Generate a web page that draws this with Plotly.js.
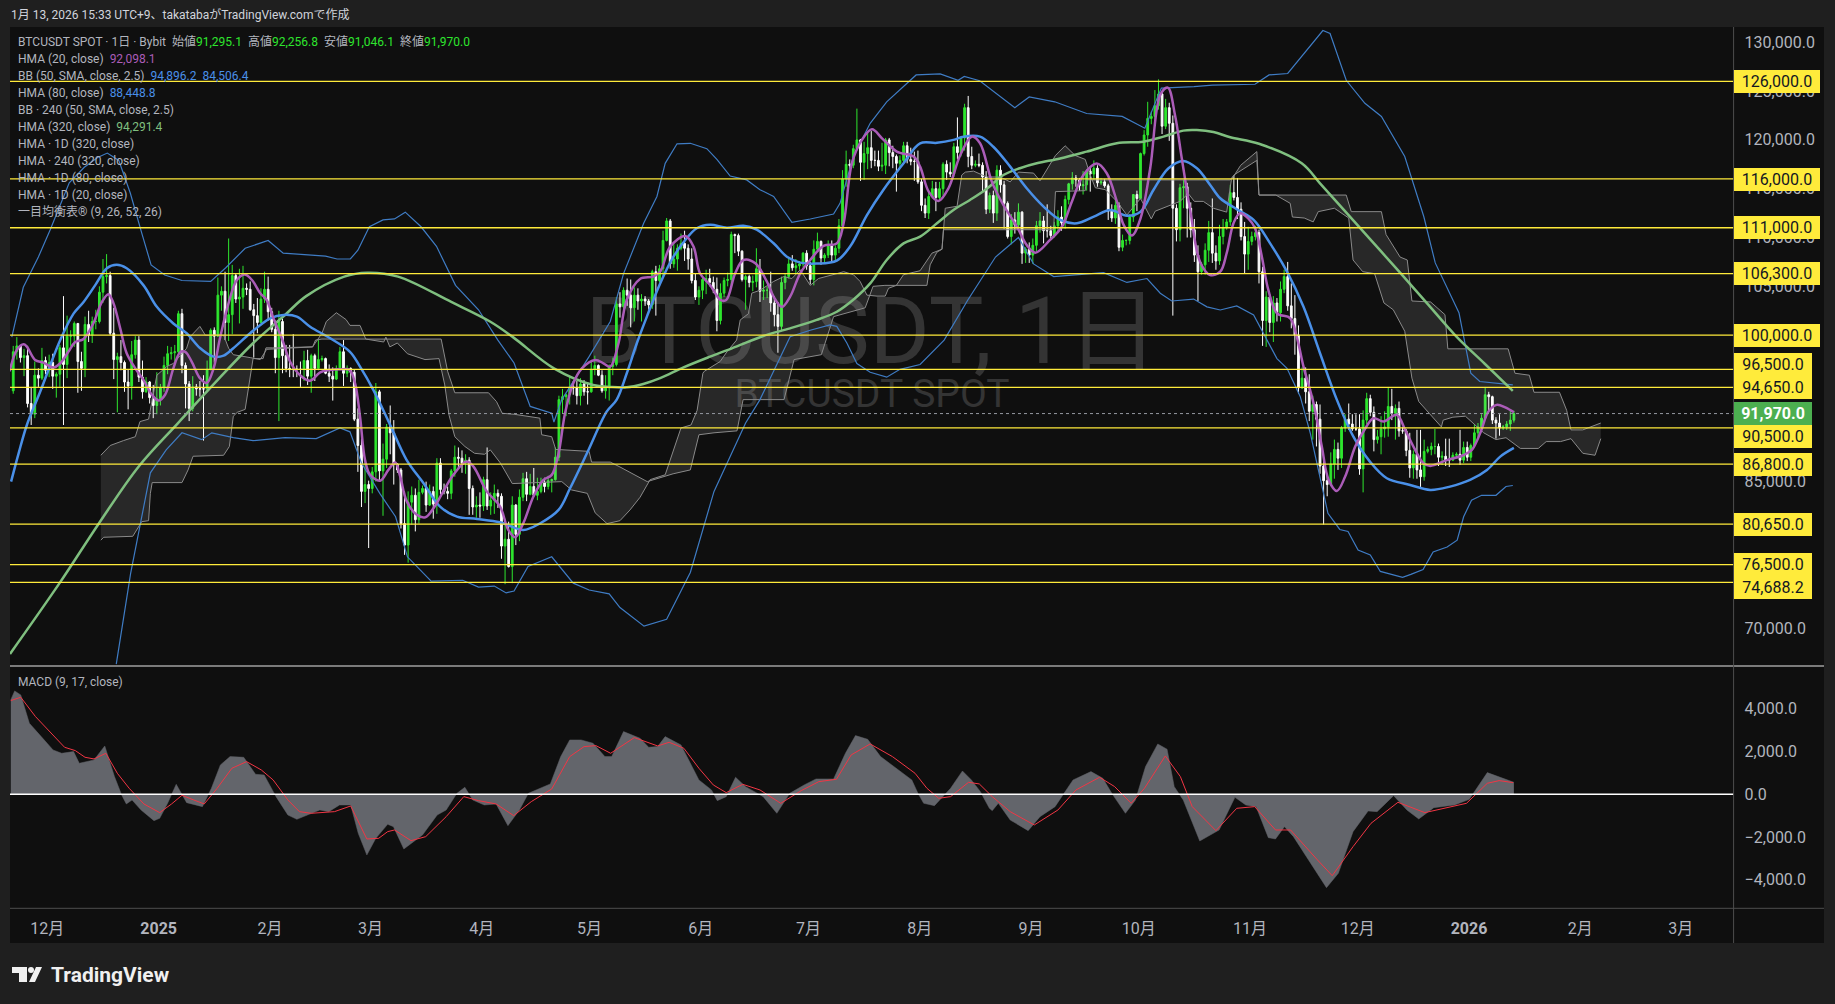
<!DOCTYPE html>
<html>
<head>
<meta charset="utf-8">
<script src="https://cdn.plot.ly/plotly-3.0.1.min.js"></script>
<style>
  html, body { margin: 0; padding: 0; background: #1f1f1f; }
  #chart { width: 1835px; height: 1004px; }
</style>
</head>
<body>
<div id="chart"></div>
<script>
// BTCUSDT daily candles, in thousands, 2024-11-21 .. 2026-01-13, one line per month
var opens = [
  94.3,98.3,98.9,97.7,97.9,93.0,91.9,95.9,95.6,97.4,
  96.4,97.2,95.8,96.0,98.7,97.0,99.9,99.9,101.2,97.3,96.6,101.1,100.0,101.4,101.4,104.4,106.0,106.1,100.2,97.5,97.8,97.2,95.2,94.8,98.0,99.5,95.7,94.2,95.2,93.6,92.8,
  93.5,94.6,96.9,98.1,98.2,98.3,102.2,96.9,95.0,92.5,94.7,94.5,94.5,94.5,96.5,100.5,99.9,104.1,104.5,101.3,102.1,106.1,103.7,103.9,104.8,104.7,102.6,102.0,101.3,103.7,104.7,
  102.4,100.6,97.7,101.4,97.9,96.6,96.5,96.5,96.5,96.5,97.4,95.8,97.9,96.6,97.5,97.6,96.1,95.8,95.5,96.6,98.3,96.1,96.6,96.2,91.4,88.7,84.0,84.7,
  84.3,86.0,94.2,86.1,87.3,90.6,90.0,86.8,86.2,80.7,78.5,82.9,83.6,81.1,83.9,84.3,82.6,84.0,82.7,86.9,84.2,84.0,83.8,86.1,87.5,87.4,86.9,87.2,84.3,82.4,82.6,
  82.5,85.2,82.5,83.1,83.8,83.5,78.4,79.1,76.3,82.6,79.6,83.4,85.3,83.7,84.5,83.6,84.0,84.9,84.5,85.1,85.2,87.5,93.4,93.7,93.9,94.7,94.6,93.8,95.0,94.2,
  94.2,96.5,96.9,95.9,94.3,94.7,96.8,97.0,103.2,102.9,104.6,104.1,102.8,104.1,103.5,103.7,103.5,103.1,106.5,105.6,106.8,109.7,111.7,107.3,107.8,108.9,109.4,108.9,107.8,105.6,103.9,
  104.6,105.7,105.8,105.4,104.7,101.5,104.3,105.6,105.7,110.3,110.2,108.6,105.7,106.0,105.4,105.5,106.8,104.5,104.6,104.6,103.3,102.1,100.9,105.4,106.0,107.3,106.9,107.1,107.3,108.4,
  107.1,105.7,108.8,109.6,107.9,108.2,109.2,108.2,108.9,111.2,116.0,117.5,117.4,119.1,120.0,117.7,118.6,119.2,117.9,117.9,117.3,117.4,120.0,118.7,118.3,117.6,117.9,119.4,118.0,117.8,117.8,
  115.7,113.3,112.5,114.2,115.0,114.1,115.0,117.5,116.7,116.5,119.3,118.7,120.2,123.3,118.3,117.4,117.5,117.4,116.2,112.9,114.3,112.5,116.9,115.4,113.5,110.1,111.8,111.3,112.6,108.4,108.8,
  108.2,109.2,111.2,111.7,110.7,110.7,110.2,111.2,112.1,111.5,113.9,115.5,116.1,115.9,115.3,115.4,116.8,116.5,117.1,115.6,115.7,115.3,112.7,112.0,113.3,109.0,109.7,109.7,112.1,114.4,
  114.0,118.6,120.5,122.2,122.4,123.5,124.7,121.4,123.3,121.7,113.0,110.8,115.1,115.2,113.0,110.8,108.2,106.5,107.2,108.7,110.5,108.4,107.6,110.1,111.0,111.6,114.6,114.1,112.9,110.1,108.3,
  109.6,110.1,110.5,106.5,101.5,103.9,101.3,103.3,102.3,104.7,106.0,103.0,101.7,100.0,94.6,95.6,94.2,92.2,92.9,91.4,86.6,85.1,84.7,86.8,88.3,87.4,90.5,91.4,90.9,90.4,
  90.4,86.3,91.3,93.5,92.1,89.3,89.6,90.4,90.6,92.7,92.0,92.5,90.2,90.2,88.2,86.4,87.8,86.2,85.5,88.1,88.3,88.6,88.6,87.5,87.6,87.2,87.2,87.7,87.8,87.2,88.5,
  87.5,88.7,90.0,90.6,91.5,93.9,93.7,91.3,91.0,90.5,90.6,90.9,91.2951
];
var highs = [
  98.9,99.8,98.9,98.6,98.9,94.7,97.3,96.6,98.7,97.8,
  98.0,98.1,96.2,99.0,104.0,102.0,100.5,101.4,101.2,98.3,101.9,102.5,101.9,102.6,105.0,107.8,108.3,106.5,102.8,98.2,99.5,97.4,96.5,99.4,99.9,99.9,97.4,95.7,95.3,94.9,96.2,
  95.0,97.8,98.9,98.8,99.0,102.5,102.7,97.2,95.3,95.8,95.0,95.3,95.9,97.4,100.7,100.8,105.9,105.0,106.5,109.9,107.2,106.3,106.8,107.1,105.3,105.5,103.2,103.8,104.8,106.5,106.0,
  102.8,101.5,102.5,101.7,99.0,99.0,100.1,96.9,97.3,98.4,98.5,98.1,98.1,99.5,97.9,97.7,97.0,96.7,96.9,98.8,99.5,96.9,96.7,96.5,92.5,89.4,87.0,85.1,
  86.5,95.1,94.4,88.9,90.9,92.8,91.3,86.9,86.4,84.0,84.0,84.5,84.3,85.2,84.6,85.0,84.7,84.5,87.4,87.4,84.8,84.5,86.3,88.7,88.5,88.2,87.8,87.5,84.6,83.5,83.9,
  85.5,88.5,83.9,84.7,84.2,83.8,81.2,80.9,83.5,82.7,84.2,85.9,86.0,85.8,86.4,85.4,85.4,85.4,85.6,85.3,88.5,93.8,94.5,94.0,95.8,95.3,95.3,95.6,95.4,95.2,
  97.4,97.9,97.0,96.4,95.9,97.0,97.7,103.9,104.4,104.9,105.8,105.7,104.9,104.8,104.2,104.0,103.7,106.7,107.1,107.2,110.7,112.0,111.9,109.5,109.3,110.4,110.7,109.3,108.9,106.3,105.0,
  105.9,106.7,106.8,106.0,105.9,105.3,105.9,106.4,110.6,110.4,110.4,108.7,106.2,106.2,106.1,108.9,107.8,105.6,105.0,106.5,104.0,103.4,106.0,106.3,108.0,108.2,107.8,107.6,108.5,108.7,
  107.5,109.7,110.5,109.7,108.4,109.7,109.7,109.2,111.9,116.9,118.9,118.0,119.5,123.2,120.1,119.8,120.9,120.9,118.9,118.9,119.7,120.2,120.2,119.4,118.5,118.4,119.8,119.8,119.2,118.8,118.9,
  116.0,114.0,114.8,115.8,115.7,115.7,117.7,117.9,117.7,119.7,122.3,120.3,123.7,124.5,119.3,117.9,118.6,117.7,116.8,114.6,114.8,117.4,117.4,115.8,113.7,112.4,112.6,113.5,112.7,109.0,109.5,
  109.9,111.7,112.6,112.2,113.4,111.2,111.6,112.8,113.2,114.3,115.6,116.7,116.4,116.1,116.8,117.0,117.3,117.9,117.4,116.1,116.0,115.5,113.4,114.0,113.6,110.3,109.8,112.4,114.4,114.8,
  118.7,121.0,123.9,122.9,125.1,126.2,125.0,124.2,123.8,122.5,113.4,115.5,115.9,115.6,113.6,111.9,109.2,107.5,109.4,111.7,114.0,109.2,111.3,111.9,111.9,115.4,116.4,116.1,113.6,111.6,111.1,
  110.6,111.2,110.8,107.0,104.5,104.2,104.0,103.8,105.5,106.7,107.5,105.3,104.1,101.0,96.7,96.7,96.0,93.8,93.2,92.9,87.5,85.6,88.0,89.3,89.0,90.7,91.9,93.0,91.9,91.9,
  91.9,92.3,94.1,93.9,92.7,90.3,91.7,92.2,94.6,94.5,92.9,93.2,90.6,90.4,90.0,88.2,90.3,90.3,89.3,88.6,89.0,90.4,88.9,88.1,89.4,89.4,88.0,88.0,90.3,89.1,89.1,
  88.9,90.9,91.0,91.9,94.7,94.2,93.8,91.6,91.9,90.8,91.2,92.4,92.2568
];
var lows = [
  94.0,97.5,97.2,95.8,92.6,90.8,91.5,94.7,95.4,96.0,
  95.7,94.5,93.6,94.7,90.8,95.6,98.9,98.8,94.1,94.3,95.7,99.3,99.2,100.6,101.2,103.3,105.3,100.0,95.5,92.1,96.4,94.2,92.4,93.4,97.6,95.2,93.5,94.1,93.0,91.5,91.9,
  92.8,94.2,96.0,97.5,97.3,97.9,96.1,92.5,91.2,92.2,93.8,93.7,89.2,94.3,96.4,97.2,99.9,102.5,99.5,99.4,100.1,103.3,101.2,102.7,104.1,102.5,97.7,100.2,101.3,103.3,101.5,
  100.3,96.1,91.2,96.1,96.2,95.7,95.7,95.7,94.7,95.3,94.9,94.1,95.3,96.4,97.3,96.0,95.2,93.3,95.4,96.4,94.8,95.7,95.2,91.2,86.0,82.4,82.8,78.2,
  83.8,85.0,85.1,81.5,86.4,87.8,84.7,85.9,80.2,77.5,76.7,80.6,79.9,80.7,83.7,81.9,82.5,81.2,81.7,83.7,83.7,83.2,83.2,85.5,86.3,85.9,85.8,81.6,81.6,81.3,81.3,
  82.0,82.1,81.6,81.7,82.3,77.1,74.5,76.2,74.6,78.5,78.9,83.0,83.0,83.6,83.5,83.1,83.8,83.9,84.2,83.9,85.1,87.1,92.0,91.7,92.9,93.9,92.9,92.8,93.8,92.9,
  94.1,95.9,95.8,94.1,93.5,93.3,95.9,96.8,101.8,102.4,103.0,100.8,101.4,102.6,101.4,103.0,102.6,102.7,102.0,105.4,105.9,109.6,106.8,106.9,106.6,108.7,107.6,106.7,105.3,103.6,103.1,
  103.7,104.2,105.0,104.3,100.4,101.1,103.9,105.0,105.1,108.4,108.1,105.5,102.6,104.9,104.5,104.9,103.4,103.6,103.8,102.4,100.9,98.2,100.4,104.7,105.8,106.6,106.3,106.7,107.0,106.7,
  105.2,105.1,108.6,107.2,107.4,107.9,107.5,107.5,108.4,110.6,115.2,116.9,117.1,118.9,115.8,115.9,117.0,117.1,117.3,116.8,116.8,116.5,117.3,117.1,114.7,117.2,117.7,117.6,117.4,115.8,115.5,
  112.7,112.0,111.9,114.0,112.7,113.7,114.3,115.9,116.2,116.2,118.0,118.3,118.9,117.2,117.0,117.2,117.2,114.7,112.4,112.5,111.5,111.7,114.6,110.9,109.9,109.3,110.4,110.8,107.3,107.4,107.4,
  107.3,108.6,110.5,109.4,110.0,109.9,110.0,110.6,110.7,110.9,113.4,114.9,115.2,114.8,114.4,114.8,114.7,115.9,115.2,115.4,115.1,111.8,111.6,111.4,108.6,108.6,109.2,109.3,111.6,112.7,
  113.9,118.4,119.3,121.6,122.0,123.1,120.6,121.1,119.9,102.0,109.6,109.6,113.0,110.0,110.0,107.5,103.5,106.2,106.2,107.5,107.4,106.7,107.2,109.3,110.8,111.2,113.8,111.9,109.7,106.3,106.7,
  109.2,109.7,105.3,98.9,98.8,100.3,99.3,101.4,101.4,104.3,102.5,100.7,98.0,94.0,94.5,93.0,91.2,89.3,88.6,85.8,80.6,83.5,84.6,85.3,86.2,86.4,90.1,90.3,90.2,90.2,
  85.7,83.9,90.9,91.7,88.1,88.9,87.8,89.5,89.6,91.3,89.3,89.6,89.9,87.6,85.4,85.3,85.3,84.4,85.1,87.9,87.7,87.8,86.6,86.7,86.6,86.5,87.1,87.6,86.7,86.9,87.1,
  87.1,88.5,89.4,90.4,91.3,92.3,90.9,89.4,89.7,90.3,90.3,90.2,91.0461
];
var closes = [
  98.3,98.9,97.7,97.9,93.0,91.9,95.9,95.6,97.4,96.4,
  97.2,95.8,96.0,98.7,97.0,99.9,99.9,101.2,97.3,96.6,101.1,100.0,101.4,101.4,104.4,106.0,106.1,100.2,97.5,97.8,97.2,95.2,94.8,98.0,99.5,95.7,94.2,95.2,93.6,92.8,93.5,
  94.6,96.9,98.1,98.2,98.3,102.2,96.9,95.0,92.5,94.7,94.5,94.5,94.5,96.5,100.5,99.9,104.1,104.5,101.3,102.1,106.1,103.7,103.9,104.8,104.7,102.6,102.0,101.3,103.7,104.7,102.4,
  100.6,97.7,101.4,97.9,96.6,96.5,96.5,96.5,96.5,97.4,95.8,97.9,96.6,97.5,97.6,96.1,95.8,95.5,96.6,98.3,96.1,96.6,96.2,91.4,88.7,84.0,84.7,84.3,
  86.0,94.2,86.1,87.3,90.6,90.0,86.8,86.2,80.7,78.5,82.9,83.6,81.1,83.9,84.3,82.6,84.0,82.7,86.9,84.2,84.0,83.8,86.1,87.5,87.4,86.9,87.2,84.3,82.4,82.6,82.5,
  85.2,82.5,83.1,83.8,83.5,78.4,79.1,76.3,82.6,79.6,83.4,85.3,83.7,84.5,83.6,84.0,84.9,84.5,85.1,85.2,87.5,93.4,93.7,93.9,94.7,94.6,93.8,95.0,94.2,94.2,
  96.5,96.9,95.9,94.3,94.7,96.8,97.0,103.2,102.9,104.6,104.1,102.8,104.1,103.5,103.7,103.5,103.1,106.5,105.6,106.8,109.7,111.7,107.3,107.8,108.9,109.4,108.9,107.8,105.6,103.9,104.6,
  105.7,105.8,105.4,104.7,101.5,104.3,105.6,105.7,110.3,110.2,108.6,105.7,106.0,105.4,105.5,106.8,104.5,104.6,104.6,103.3,102.1,100.9,105.4,106.0,107.3,106.9,107.1,107.3,108.4,107.1,
  105.7,108.8,109.6,107.9,108.2,109.2,108.2,108.9,111.2,116.0,117.5,117.4,119.1,120.0,117.7,118.6,119.2,117.9,117.9,117.3,117.4,120.0,118.7,118.3,117.6,117.9,119.4,118.0,117.8,117.8,115.7,
  113.3,112.5,114.2,115.0,114.1,115.0,117.5,116.7,116.5,119.3,118.7,120.2,123.3,118.3,117.4,117.5,117.4,116.2,112.9,114.3,112.5,116.9,115.4,113.5,110.1,111.8,111.3,112.6,108.4,108.8,108.2,
  109.2,111.2,111.7,110.7,110.7,110.2,111.2,112.1,111.5,113.9,115.5,116.1,115.9,115.3,115.4,116.8,116.5,117.1,115.6,115.7,115.3,112.7,112.0,113.3,109.0,109.7,109.7,112.1,114.4,114.0,
  118.6,120.5,122.2,122.4,123.5,124.7,121.4,123.3,121.7,113.0,110.8,115.1,115.2,113.0,110.8,108.2,106.5,107.2,108.7,110.5,108.4,107.6,110.1,111.0,111.6,114.6,114.1,112.9,110.1,108.3,109.6,
  110.1,110.5,106.5,101.5,103.9,101.3,103.3,102.3,104.7,106.0,103.0,101.7,100.0,94.6,95.6,94.2,92.2,92.9,91.4,86.6,85.1,84.7,86.8,88.3,87.4,90.5,91.4,90.9,90.4,90.4,
  86.3,91.3,93.5,92.1,89.3,89.6,90.4,90.6,92.7,92.0,92.5,90.2,90.2,88.2,86.4,87.8,86.2,85.5,88.1,88.3,88.6,88.6,87.5,87.6,87.2,87.2,87.7,87.8,87.2,88.5,87.5,
  88.7,90.0,90.6,91.5,93.9,93.7,91.3,91.0,90.5,90.6,90.9,91.3,91.97
];
var firstCandleDay = -10; // day numbers count from 2024-12-01

// indicators: day number + value in thousands
var hma20Days = [-11,-9,-7.1,-6.2,-3.9,-1.6,1.2,3.1,5.4,7.2,9.6,12.3,14.7,16.5,17.9,19.8,21.6,24,26.3,28.6,30.5,32.3,34.6,36.5,37.9,39.7,42,43.9,45.8,47.6,50,52.3,54.6,56.5,58.8,60.6,62.5,64.8,67.1,69.9,72.7,75.5,78.2,81,83.7,85.2,86.6,88,89.4,92.2,94.5,96.4,97.8,99.6,102.4,104.8,107.1,109.8,112.6,116.3,118.2,121.9,125.6,127.9,129.8,132.1,134.9,137.7,140,141.9,143.7,146,148.4,152.1,154.4,156.3,158.6,160.9,164.6,168.3,170.2,173,177.2,179.5,181.3,184.1,187,188.6,191.1,193.4,196.7,199.9,201.8,204.1,206.4,209.2,212,215.7,219.4,221.3,223.6,226.4,229.2,232,236.1,240.8,242.6,245,247.7,250.5,253.8,257,259.3,262.6,265.8,269.6,272.3,274.7,278.8,282.1,284.9,288.1,291.8,294.6,297.4,299.3,301.6,304,306.7,309.5,311.6,313.6,315.5,317.9,320.6,323.4,326.2,328,329.9,331.7,334,335.9,337.8,339.6,342,345.7,347.5,349.4,352.2,354.5,356.4,358.7,361,363.8,366.1,368.9,371.7,375.4,377.7,380.5,382.8,384.7,389.3,393.9,396.3,398.6,400.9,403.2,405.6,408];
var hma20Vals = [96.3,98.49,99.07,98.83,97.46,97.19,96.68,97.12,98.32,99.27,99.61,101.2,103.4,104.2,103.3,100.7,98.15,96.6,95.4,93.9,93.3,93.9,96.6,98.25,98.3,97.3,95.6,95.1,96.6,99.7,103.3,105.65,106.2,105.65,104.3,103.6,101.7,99.7,97.3,95.9,95.34,96.2,96.44,96.5,96.44,95.1,91.66,87.2,85.7,85.1,86.2,86.95,85.5,83.0,81.6,81.35,82.3,84.0,85.7,87.05,86.54,84,82.45,80.05,79.3,80.76,83.47,85.17,85.69,87.9,92,95.07,96.6,97.46,97.12,96.78,99.17,103.6,105.76,106,106.5,109.07,110.16,109.07,106.34,105.14,103.6,103.6,106.34,107.7,107.36,105.5,103.95,102.9,103.95,106.34,107.7,109.14,109.4,111.46,117.6,120,121.08,120.16,118.8,118.3,117.26,114.7,113.74,115.04,118.45,120.33,119.65,115.7,113.33,111.1,109.24,108.45,109.75,111.1,113.7,116.4,117.57,116.58,113.7,111.29,110.2,111.97,117.09,124.6,125.35,122.55,118.1,112.65,107.5,106.16,106.5,108.4,111.46,112.48,111.97,110.94,108.04,104.63,102.24,101.73,99.85,96.78,93.03,88.59,85.18,84.05,85.52,88.59,90.13,91.49,91.15,91.83,90.3,88.25,86.88,86.61,87.2,87.7,88.25,89.95,92.17,92.86,92.6,92.1];

var hma80Days = [-10.6,-8.5,-6.2,-2.5,3.1,6.8,9.6,12.8,16.1,18.8,21.6,26.3,30,34.6,38.3,42.1,45.8,48.6,51.3,56,61.6,65.3,69,72.7,78.3,83.8,86.6,90.3,95,99.6,104.3,108.9,113.6,119.2,125.6,132.1,136.8,141.9,145.1,149.8,155.3,158.1,160.9,163.7,166.5,170.2,173.9,177.2,180.4,184.1,188.8,193.4,197.1,201.8,205.5,209.2,213.8,219.4,223.1,227.8,232.4,238,242.6,247.3,251.9,254.7,259.3,263,267.7,272.3,277,281.6,286.3,291,295.6,300.2,304,307.6,311.8,315.9,319.7,323.4,326.2,330.8,335.5,340.1,344.8,349.4,354,358.7,363.3,367.9,372.6,379.1,384.7,390.2,395.8,400.5,404.2,408];
var hma80Vals = [85,87.9,90.8,94.2,99.5,102.2,103.4,105.1,106.85,107.2,106.85,105.1,102.9,101.2,100.2,98.66,97.8,97.9,98.66,100.2,101.73,102.07,101.9,100.87,99.68,98.3,96.78,94.4,90.8,87.2,84.83,82.44,81.42,81.18,80.84,80.05,80.74,82.1,84.32,87.9,92.17,93.4,96.1,99.17,101.9,105.3,108.04,109.75,110.95,111.3,111,111.2,110.8,109.41,108.04,107.43,107.33,107.63,109.07,112.3,114.9,117.6,119.65,119.7,120,120.33,120.33,119.3,117.26,115.04,113.16,111.8,111.46,112.14,112.82,112.24,112.65,114.87,117.09,117.84,117.09,115.38,114.02,112.9,111.8,109.4,106.5,102.9,98.15,93.37,89.6,87.05,85.35,84.66,84.15,84.49,85.18,86.2,87.56,88.45];

var hma320Days = [-10.9,2.9,13.9,24.9,35.9,46.9,56.8,65.7,71.6,82.2,88.6,97.2,112,122.8,129.2,140.6,151.5,156.3,160.9,165.5,170.2,176.7,184.1,191.4,198.9,206.4,213.8,219.4,223.9,228.7,233.3,238,242.6,247.3,251.9,256.5,261.2,265.8,270.4,275.1,281.6,289,297.4,304.8,310.4,315.9,319.7,324.3,329,337,348.9,354,360.7,368.5,376.3,384.2,392,399.8,407.7];
var hma320Vals = [67.35,74.6,80.74,86.53,91,95.4,99.17,102.07,104,106,106.4,106,103.4,101.4,99.8,96.6,94.9,94.7,94.66,95,95.6,96.7,97.8,98.83,99.92,100.7,101.56,102.4,103.6,105.3,107.7,109.4,110.09,111.46,112.82,113.85,115,116.4,117.1,117.6,118.1,118.8,119.65,119.82,120.33,120.95,121,120.8,120.27,119.6,117.6,115.55,112.8,109.6,106.4,103.1,99.85,97.1,94.29];

var bbUpperDays = [-10.4,-7.2,-3,0.3,5.6,9.8,13.5,16.2,19.4,22.6,25.8,28.4,32.2,37,45,49.2,54.6,61,65.2,77,80.2,83.9,86,89.2,93,96.2,99.2,103.6,107.9,113.2,119.6,125,129.5,134,140,140.6,142.8,150.4,156.3,160,165.6,169.3,171.6,174.9,178.6,183.2,186,189.7,194.3,198,201.8,203.7,206.9,212,218.5,220.3,224,228.7,233.3,241.5,248.2,253.2,254.9,259.2,263.6,269,273,280.1,289,298.9,305.2,309.8,318.9,324,335.9,339.8,345,350.2,354.8,356.8,361.3,366.5,371.1,377.6,382.9,386.1,392.7,396,398.5,407.7];
var bbUpperVals = [99.8,104.9,108,110.8,115.6,117.2,118.2,118.65,117.9,114.56,110.45,107.2,106.16,105.6,105.5,106.9,108.9,109.7,108.4,108.1,107.8,107.8,108.7,111.1,111.8,111.9,112.6,111.1,109.1,105.1,102.6,99.5,97.15,92.7,92,91.1,93.4,97.8,101.4,106.3,111.46,114.2,117.6,119.6,119.65,119.1,118,116.3,115.9,114.9,114.2,113.2,111.56,111.9,112.4,113.5,118.3,121.7,123.9,126.65,126.76,126.1,126.5,126.06,124.8,123.3,124.4,123.9,122.7,122.4,121.2,125.3,125.45,125.6,125.7,126.65,126.8,129.2,131.2,130.9,126.1,123.75,122.4,118.3,112.15,107.4,102.3,96.1,95.25,94.9];

var bbLowerDays = [18.7,22.7,28.2,32.6,37,42.5,45.3,51.3,56.8,65.7,74.4,81,83.8,87,92.1,96.5,99.8,106.4,115.2,119.6,124,127.3,129.5,133.4,140,146,150.4,156,159,165.7,172,178.6,185.2,194,198,202.7,206.4,212,217.5,219.4,222.2,225,228.7,233.3,237,242.6,249.3,255.9,263.6,270,274.2,279.8,286.3,293.7,300.2,305.8,309.5,312.7,318.8,322.5,326.2,330.8,335.5,338.2,342,344.8,348.5,351.3,356.2,359.5,361.8,364.6,368,370.8,377,379.3,382.7,385.5,389.4,392.2,394,396.2,399,403,405.8,407.7];
var bbLowerVals = [66.3,75.6,85.9,88.25,90,89.3,90,89.5,89.2,89.5,89.4,90.5,90.1,86.9,83.8,81.4,77.3,74.8,74.9,74.2,74.3,73.6,73.8,76.3,77.3,74.6,73.9,73.5,72.1,70.2,70.9,75.7,84,91,93.4,97.1,99.85,100.5,101.05,100.9,99.2,97.1,96.2,95.7,96.5,97,99.5,103.6,108,110,107.3,106,106.2,106.4,105.4,105.8,104.3,103.5,103.7,102.9,102.58,103,102.07,100.2,97.6,96.6,93.7,89.95,81.76,80.1,79.9,78,77.5,75.8,75.2,75.5,76,77.8,78.3,79,81.4,83.1,83.6,83.6,84.5,84.6];

var spanADays = [14.4,17,20.7,24,25.3,27.7,30,32.8,34.6,38.3,39.3,42,43.5,48.6,50,51.3,56,58.8,60.6,66.7,73.4,76,77.2,80,82.7,83.8,86.6,88.2,93.2,93.8,94.9,97,99.8,104.7,108.6,110.2,111.4,113,115.8,118.5,121.3,122.9,125.7,129,142.8,145.5,149.9,152.1,155.4,159,161.8,164.6,167.4,171.6,176,178.8,180.5,182.1,182.5,186.9,188.8,191.5,192.5,194.8,195.7,198,201.8,204.6,206.9,209.2,212,214.3,216.6,219.4,221.3,224,225.9,227.8,230.6,232.9,233.8,236,238,242.6,245.9,248.7,249.6,252.9,254.2,255.2,257.5,261.2,264.9,267.7,270,274.2,276,277.4,280.3,283,285.8,288.6,290,291.4,294.2,297.4,300.2,304,307,308.1,311.8,315,317.3,319,321.5,324.3,328,329.3,331.9,336.4,337,341.7,345.7,346.3,349.6,352.1,353.5,358,362,363.2,365.9,369.2,371.8,374.4,377.6,379.6,381.5,384.3,387.8,388.3,391,394.5,399.6,403,405.8,409.8,414.8,417,421,423.9,427.2,430.6,432.2];
var spanAVals = [87.7,88.7,89.2,89.6,91.15,91.4,95.9,96.8,97.1,98.66,99.85,100.9,100,100,98.66,98,97.7,97.5,98.55,98.7,98.8,100.2,101.4,102.3,101.6,101,101,99.6,99.3,99.8,98.8,99.2,98.1,97.5,97.6,94.9,91.8,89.6,88.6,87.9,87.8,88.25,86.9,84.8,85,84.15,83.8,81.8,80.7,81,82.1,83.4,85.2,85.7,90.5,90.8,92.3,96.1,96.3,97.3,98.3,99.5,101.56,102.2,104.3,104.6,105.5,106,105.8,106.7,105.1,105.8,106,106.3,106.5,106.2,105.5,104.1,104,104,104.8,105.1,106.2,106.6,108.4,108.8,113,113.2,116.4,116.7,116.8,116.2,116.2,115.7,116.7,116.6,115.8,116.6,118.4,119.4,118.4,118,116.4,115.1,114.9,113.7,112.3,114,111.9,112.7,113.2,113.7,114.5,113.7,113.7,113,112.6,115.9,117.4,118.8,114.35,114.35,113.5,112.1,112,111.6,112.65,113,112,107.7,106.5,106.3,103.3,102.6,100.4,95.6,93.2,92,90.6,91.3,91.6,91.7,90,89.3,89.5,88.4,88.4,89.1,89.1,89.4,87.9,87.7,89.4];

var spanBDays = [14.4,15.2,23.3,24.9,25.8,27.7,28.2,28.7,37,38.7,40.1,48.6,50.2,51.3,52.4,54.6,55.7,56.8,59.6,60.4,62.3,73.4,74.2,76,109.2,110.2,111,113,122.4,124.6,126.2,129.5,136.7,137.2,140,141.1,150.4,151.1,156.3,159,164,166.6,173.8,178.6,181,185.2,191.6,193.3,204.7,207.5,215.1,218.5,227.3,229.5,232.8,236,244.5,245.4,247.3,248.7,249.1,279.8,280.3,288.6,288.9,329,330,336.4,337,361.3,362.7,371.1,372.4,376.3,378.3,379.6,384.8,388.8,389.6,406.4,408.3,412.3,413.6,420.7,422.7,423.9,427.2,432.2];
var spanBVals = [79,79.3,79.4,80.4,80.9,81,83.8,84.9,84.9,86.2,87.6,87.7,88.6,91.7,92.1,92.4,95.1,97.6,97.6,98.7,98.7,98.8,99.5,99.6,99.6,97.8,96.3,94.1,94.1,93.2,92,91.9,91.5,89.8,89.6,88.3,88.1,87,87,86.5,85.5,85,85.8,86.2,89.8,90,90.2,93.4,93.4,97.5,98,101.9,102.8,105,105.1,105.1,105.1,107.2,108.5,108.8,110.8,110.8,114.7,114.8,115.9,115.9,116.4,117.9,114.35,114.35,112.65,112.65,110.3,108,107.7,103.5,103.4,102.1,98.6,98.6,96.1,95.9,94.15,94.15,92.3,90.3,90.3,91];

// MACD pane, raw values
var macdDays = [-10.7,-9.6,-7.9,-5.5,-2.2,1.1,3.5,6.8,8.4,12.5,15.5,18.2,20.2,21.5,23.1,25.6,29.2,30.8,33,35.4,38.3,42.7,45.2,47.7,50.4,54.2,57.5,59.9,63.2,66.5,69,72.2,75.4,77.9,80.9,84,86.1,88.5,91,94.3,95.9,98.8,100.8,104,108.1,110.6,113.6,115.8,118,121.2,124.5,127.8,131,133.5,139.6,142.5,145,148.2,151.5,154.8,156.7,160,164.6,167,169.5,171.6,176,181,184.5,186.1,188.6,191.2,194,198.9,202.7,206.3,210.3,213.6,218.5,221.8,224.6,228,231.6,236.5,240.3,242,243.6,246.6,251.1,254.4,256.9,259.4,261.9,262.7,264.4,267.7,272.7,276,280.2,282.7,285.2,290.2,293.5,296,299.8,302.6,305.4,308.8,311.4,313.4,315.9,320.5,323.4,325.9,330.3,333.3,336.2,339.6,341.6,344.1,346.6,351.6,355.8,359.1,363.2,367.4,369.9,374.5,378.2,381.5,385.7,391.5,395.6,400.6,403.9,408];
var macdVals = [4415,4836,4649,3323,2699,2075,1919,1997,1451,1607,2262,827,-31,-452,-265,-733,-1232,-1123,-421,468,-390,-577,281,1373,1763,1732,936,905,-109,-967,-1170,-967,-733,-811,-499,-499,-1825,-2839,-2059,-1404,-1513,-2558,-2293,-1903,-967,-733,47,328,-265,-499,-452,-1466,-733,47,484,1763,2543,2543,2387,1763,1763,2933,2621,2200,2231,2699,2309,671,203,-296,-109,796,359,-109,-889,47,437,718,718,1919,2746,2574,1763,1139,671,47,-421,-530,281,1092,671,125,-655,-764,-421,-1201,-1700,-1045,-577,47,671,1061,749,47,-889,-265,1295,2356,2106,359,-265,-2184,-1903,-1669,-140,-499,-577,-2028,-2090,-1513,-1981,-3276,-4368,-3697,-1747,-780,-811,-62,-733,-1154,-624,-499,-234,1014,827,562];
var signalDays = [-10.7,-7.9,-3.8,1.1,4.3,7.3,10,12.5,15.8,19,22.3,26.4,30.8,34.1,37,40.3,43.2,46.8,50.9,55,59.1,62.4,66.5,69.7,73,79.5,84,88.5,91.8,94.3,96.2,100.8,104.9,110.6,115.5,119.6,124.5,129.4,134.3,140,145,149,152.3,156.4,163,169.5,172.7,176.8,181,185,188.6,193.2,198,203.8,209.5,214.4,219.3,223.4,228.7,234.9,241.2,244.5,247.8,251.1,256.1,259.1,262.7,267.7,274.4,281,286,292.6,296.8,301.4,305.1,310.9,315.1,318.4,325,330.8,335.8,341.6,345.8,353.3,357.4,363.2,368.2,375.7,383.2,394.8,400.6,403.9,407.8];
var signalVals = [4384,4540,3635,2777,2200,2044,1732,1654,1919,983,281,-452,-858,-452,-47,-265,-452,281,1217,1529,1139,671,-265,-811,-889,-811,-546,-2090,-2059,-1747,-1669,-2168,-1981,-1045,-109,-296,-452,-998,-343,250,1763,2231,2278,1919,2652,2262,2434,2153,1217,437,78,468,203,-421,172,593,702,1841,2356,1763,983,281,-187,-109,562,484,-109,-811,-1435,-733,203,796,359,-421,281,1794,827,-577,-1700,-655,-577,-1669,-1669,-3073,-3806,-2449,-1357,-374,-858,-421,515,640,546];

// horizontal levels and their axis tags
var levelPrices = [126000,116000,111000,106300,100000,96500,94650,90500,86800,80650,76500,74688.2];
var lastPrice = 91970;
var monthDays = [0,31,62,90,121,151,182,212,243,274,304,335,365,396,427,455];
var monthLabels = ["12月","<b>2025</b>","2月","3月","4月","5月","6月","7月","8月","9月","10月","11月","12月","<b>2026</b>","2月","3月"];
// 75k, 80k, 90k and 95k sit fully behind the price tags in the original
var priceTicks = [70000,85000,100000,105000,110000,115000,120000,125000,130000];
var macdTicks = [-4000,-2000,0,2000,4000];

// legend rows
var legendNames = ["HMA (20, close)","BB (50, SMA, close, 2.5)","HMA (80, close)","BB · 240 (50, SMA, close, 2.5)","HMA (320, close)","HMA · 1D (320, close)","HMA · 240 (320, close)","HMA · 1D (80, close)","HMA · 1D (20, close)","一目均衡表® (9, 26, 52, 26)"];
var legendValues = ["92,098.1","94,896.2&nbsp;&nbsp;84,506.4","88,448.8","","94,291.4","","","","",""];

var W = 1835, H = 1004;
var FONT = 'Roboto, "Noto Sans CJK JP", sans-serif';
var GREEN = '#2ee62e', PURPLE = '#ab5cb8', BLUE = '#4a90e8', THIN_BLUE = '#3f7cc4', LIME = '#7fbf7f', YELLOW = '#ffeb3b';
var AXIS_GREY = '#b2b5be';

function px(x) { return x / W; }
function py(y) { return 1 - y / H; }
function k(arr) { return arr.map(function (v) { return v * 1000; }); }

var candleDays = closes.map(function (_, i) { return firstCandleDay + i; });

var traces = [
  {
    type: 'candlestick', x: candleDays, open: k(opens), high: k(highs), low: k(lows), close: k(closes),
    width: 0.62, yaxis: 'y', hoverinfo: 'skip',
    increasing: { line: { color: GREEN, width: 1 }, fillcolor: GREEN },
    decreasing: { line: { color: '#ffffff', width: 1 }, fillcolor: '#ffffff' }
  },
  { type: 'scatter', mode: 'lines', x: spanADays, y: k(spanAVals), line: { color: '#8a8a8a', width: 1 }, hoverinfo: 'skip' },
  { type: 'scatter', mode: 'lines', x: spanBDays, y: k(spanBVals), line: { color: '#8a8a8a', width: 1 }, fill: 'tonexty', fillcolor: 'rgba(255,255,255,0.105)', hoverinfo: 'skip' },
  { type: 'scatter', mode: 'lines', x: bbUpperDays, y: k(bbUpperVals), line: { color: THIN_BLUE, width: 1.2 }, hoverinfo: 'skip' },
  { type: 'scatter', mode: 'lines', x: bbLowerDays, y: k(bbLowerVals), line: { color: THIN_BLUE, width: 1.2 }, hoverinfo: 'skip' },
  { type: 'scatter', mode: 'lines', x: hma320Days, y: k(hma320Vals), line: { color: LIME, width: 2.5, shape: 'spline' }, hoverinfo: 'skip' },
  { type: 'scatter', mode: 'lines', x: hma80Days, y: k(hma80Vals), line: { color: BLUE, width: 2.5, shape: 'spline' }, hoverinfo: 'skip' },
  { type: 'scatter', mode: 'lines', x: hma20Days, y: k(hma20Vals), line: { color: PURPLE, width: 2.5, shape: 'spline' }, hoverinfo: 'skip' },
  { type: 'scatter', mode: 'lines', x: macdDays, y: macdVals, yaxis: 'y2', line: { color: '#63656b', width: 0.5 }, fill: 'tozeroy', fillcolor: '#63656b', hoverinfo: 'skip' },
  { type: 'scatter', mode: 'lines', x: signalDays, y: signalVals, yaxis: 'y2', line: { color: '#f23645', width: 1 }, hoverinfo: 'skip' }
];

// page furniture in pixel coordinates
function pxRect(x0, y0, x1, y1, extra) {
  return Object.assign({ type: 'rect', xref: 'paper', yref: 'paper', x0: px(x0), x1: px(x1), y0: py(y0), y1: py(y1), line: { width: 0 } }, extra);
}
function pxLine(x0, y0, x1, y1, color, width) {
  return { type: 'line', xref: 'paper', yref: 'paper', x0: px(x0), x1: px(x1), y0: py(y0), y1: py(y1), layer: 'above', line: { color: color, width: width } };
}
function pxPath(points, color) {
  var d = points.map(function (p, i) { return (i ? 'L' : 'M') + px(p[0]) + ' ' + py(p[1]); }).join(' ') + ' Z';
  return { type: 'path', xref: 'paper', yref: 'paper', path: d, fillcolor: color, line: { width: 0 }, layer: 'above' };
}

var shapes = [
  pxRect(10, 27, 1824, 943, { fillcolor: '#0f0f0f', layer: 'below' }),
  pxRect(603, 287, 1141, 362, { layer: 'below', fillcolor: 'rgba(0,0,0,0)', label: { text: 'BTCUSDT, 1日', textposition: 'middle center', font: { family: FONT, size: 92, color: '#343434' } } }),
  pxRect(735, 370, 1009, 412, { layer: 'below', fillcolor: 'rgba(0,0,0,0)', label: { text: 'BTCUSDT SPOT', textposition: 'middle center', font: { family: FONT, size: 39, color: '#343434' } } })
];
levelPrices.forEach(function (p) {
  shapes.push({ type: 'line', xref: 'x domain', yref: 'y', x0: 0, x1: 1, y0: p, y1: p, layer: 'above', line: { color: YELLOW, width: 1.3 } });
});
shapes.push({ type: 'line', xref: 'x domain', yref: 'y', x0: 0, x1: 1, y0: lastPrice, y1: lastPrice, layer: 'above', line: { color: '#9598a1', width: 1, dash: 'dot' } });
shapes.push({ type: 'line', xref: 'x domain', yref: 'y2', x0: 0, x1: 1, y0: 0, y1: 0, layer: 'above', line: { color: '#ffffff', width: 1.4 } });
shapes.push(pxLine(10, 666, 1824, 666, '#e8e8e8', 1.2));
shapes.push(pxLine(10, 908.3, 1824, 908.3, '#4e4e4e', 1));
shapes.push(pxLine(1733.6, 27, 1733.6, 943, '#4e4e4e', 1));
// TradingView mark
shapes.push(pxPath([[12, 967], [27, 967], [27, 982], [19, 982], [19, 973], [12, 973]], '#f0f0f0'));
shapes.push(pxPath([[36, 967], [42, 967], [35, 982], [29, 982]], '#f0f0f0'));
shapes.push({ type: 'circle', xref: 'paper', yref: 'paper', x0: px(28), x1: px(34), y0: py(973), y1: py(967), fillcolor: '#f0f0f0', line: { width: 0 }, layer: 'above' });

function textAt(x, y, text, size, color, extra) {
  return Object.assign({ xref: 'paper', yref: 'paper', x: px(x), y: py(y), xanchor: 'left', yanchor: 'middle', showarrow: false, text: text, font: { family: FONT, size: size, color: color } }, extra);
}
function span(t, c) { return '<span style="color:' + c + '">' + t + '</span>'; }

var annotations = [
  textAt(9, 15, '1月 13, 2026 15:33 UTC+9、takatabaがTradingView.comで作成', 12, '#d1d4dc'),
  textAt(16, 42, 'BTCUSDT SPOT · 1日 · Bybit&nbsp;&nbsp;始値' + span('91,295.1', GREEN) + '&nbsp;&nbsp;高値' + span('92,256.8', GREEN) + '&nbsp;&nbsp;安値' + span('91,046.1', GREEN) + '&nbsp;&nbsp;終値' + span('91,970.0', GREEN), 12, AXIS_GREY),
  textAt(16, 682, 'MACD (9, 17, close)', 12, AXIS_GREY),
  textAt(49, 975, '<b>TradingView</b>', 21, '#f0f0f0')
];
var legendColors = [PURPLE, '#4a90e8', '#4a90e8', '', LIME, '', '', '', '', ''];
legendNames.forEach(function (name, i) {
  var t = name + (legendValues[i] ? '&nbsp;&nbsp;' + span(legendValues[i], legendColors[i]) : '');
  annotations.push(textAt(16, 59 + i * 17, t, 12, AXIS_GREY));
});

// price tags on the right axis; crowded ones get pushed apart like the original
var tagCentres = [81.3, 179.3, 227.3, 273.3, 335.3, 364, 387.3, 436.5, 464.5, 524.3, 564.3, 587.3];
var tagWidths = [86, 86, 86, 86, 86, 78, 78, 78, 78, 78, 78, 78];
levelPrices.forEach(function (p, i) {
  annotations.push(textAt(1734, tagCentres[i], p.toLocaleString('en-US', { minimumFractionDigits: 1, maximumFractionDigits: 1 }), 16, '#131722', {
    bgcolor: YELLOW, width: tagWidths[i], height: 23, align: 'center', borderpad: 0, borderwidth: 0
  }));
});
annotations.push(textAt(1734, 413.5, '<b>91,970.0</b>', 16, '#ffffff', { bgcolor: '#4caf50', width: 78, height: 23, align: 'center', borderpad: 0, borderwidth: 0 }));

var layout = {
  width: W, height: H,
  paper_bgcolor: '#1f1f1f',
  plot_bgcolor: 'rgba(0,0,0,0)',
  margin: { l: 0, r: 0, t: 0, b: 0, pad: 0 },
  showlegend: false,
  xaxis: {
    type: 'linear', domain: [px(10), px(1733.6)], range: [-10.9, 469.2], anchor: 'y2',
    showgrid: false, zeroline: false, showline: false, ticks: '',
    tickmode: 'array', tickvals: monthDays.map(function (d) { return d - 0.5; }), ticktext: monthLabels,
    tickfont: { family: FONT, size: 16, color: AXIS_GREY }, ticklabelstandoff: 9,
    rangeslider: { visible: false }
  },
  yaxis: {
    domain: [py(666), py(27)], range: [66117, 131561], side: 'right', anchor: 'x',
    showgrid: false, zeroline: false, showline: false, ticks: '',
    tickmode: 'array', tickvals: priceTicks, tickformat: ',.1f',
    tickfont: { family: FONT, size: 16, color: AXIS_GREY }, ticklabelstandoff: 10
  },
  yaxis2: {
    domain: [py(908.3), py(666)], range: [-5333, 6002], side: 'right', anchor: 'x',
    showgrid: false, zeroline: false, showline: false, ticks: '',
    tickmode: 'array', tickvals: macdTicks, tickformat: ',.1f',
    tickfont: { family: FONT, size: 16, color: AXIS_GREY }, ticklabelstandoff: 10
  },
  shapes: shapes,
  annotations: annotations
};

Plotly.newPlot('chart', traces, layout, { staticPlot: true, displayModeBar: false });
</script>
</body>
</html>
